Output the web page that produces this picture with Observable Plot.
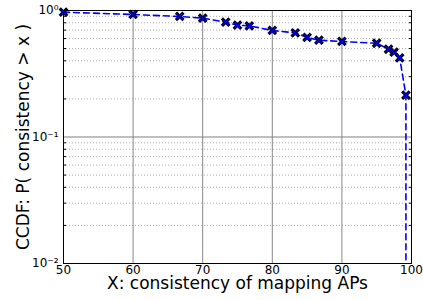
<!DOCTYPE html>
<html>
<head>
<meta charset="utf-8">
<script src="https://cdn.jsdelivr.net/npm/d3@7"></script>
<script src="https://cdn.jsdelivr.net/npm/@observablehq/plot@0.6"></script>
<style>
html,body{margin:0;padding:0;background:#fff;}
svg{display:block;font-family:"DejaVu Sans",sans-serif;}
</style>
</head>
<body>
<div id="chart"></div>
<script>
const xs = [50, 60, 66.7, 70, 73.3, 75, 76.7, 80, 83.3, 85, 86.7, 90, 95, 96.7, 97.5, 98.3, 99.2];
const ys = [0.97, 0.93, 0.897, 0.87, 0.81, 0.765, 0.757, 0.695, 0.666, 0.612, 0.582, 0.569, 0.551, 0.494, 0.468, 0.423, 0.214];
// tail of the CCDF (value drops to ~0, below the axis)
const tailX = [99.2];
const tailY = [1e-4];
const xTicks = [50, 60, 70, 80, 90, 100];
const yMajor = [0.01, 0.1, 1];
const yMinor = [2,3,4,5,6,7,8,9].flatMap(m => [m * 0.01, m * 0.1]);
const supLabels = {"1": "10⁰", "0.1": "10⁻¹", "0.01": "10⁻²"};
const xLabel = "X: consistency of mapping APs";
const yLabel = "CCDF: P( consistency > x )";

const pts = xs.map((x, i) => ({x, y: ys[i]}));
const lineData = pts.concat(tailX.map((x, i) => ({x, y: tailY[i]})));

const chart = Plot.plot({
  width: 423,
  height: 300,
  marginLeft: 63,
  marginRight: 12,
  marginTop: 10,
  marginBottom: 37,
  style: {fontFamily: "DejaVu Sans", background: "#fff"},
  x: {domain: [50, 100]},
  y: {type: "log", domain: [0.01, 1]},
  marks: [
    Plot.ruleY(yMinor, {stroke: "#aaa", strokeDasharray: "1,2", strokeWidth: 1}),
    Plot.ruleY([0.1], {stroke: "#aaa", strokeWidth: 1.3}),
    Plot.ruleX([60, 70, 80, 90], {stroke: "#888", strokeWidth: 1}),
    Plot.axisX({ticks: xTicks, tickSize: 0, tickPadding: 2, fontSize: 12, label: null, tickFormat: d => String(d), color: "#000"}),
    Plot.axisY({ticks: yMajor, tickSize: 0, tickPadding: 5, fontSize: 12, label: null, tickFormat: d => supLabels[String(d)], color: "#000"}),
    Plot.axisY({anchor: "right", ticks: yMinor, tickSize: -3, tickFormat: () => "", label: null, stroke: "#000"}),
    Plot.axisY({anchor: "left", ticks: yMinor, tickSize: -3, tickFormat: () => "", label: null, stroke: "#000"}),
    Plot.line(lineData, {x: "x", y: "y", stroke: "#0000ff", strokeWidth: 1.6, strokeDasharray: "6,4", clip: true}),
    Plot.dot(pts, {x: "x", y: "y", symbol: "times", r: 3.5, stroke: "#000", strokeWidth: 3.2}),
    Plot.dot(pts, {x: "x", y: "y", symbol: "times", r: 2.8, stroke: "#0000ff", strokeWidth: 1.3}),
    Plot.frame({stroke: "#000", strokeWidth: 1}),
    Plot.text([xLabel], {frameAnchor: "bottom", dy: 25, fontSize: 17, fill: "#000"}),
    Plot.text([yLabel], {frameAnchor: "left", textAnchor: "middle", dx: -40, rotate: -90, fontSize: 17, fill: "#000"})
  ]
});
document.getElementById("chart").appendChild(chart);
</script>
</body>
</html>
